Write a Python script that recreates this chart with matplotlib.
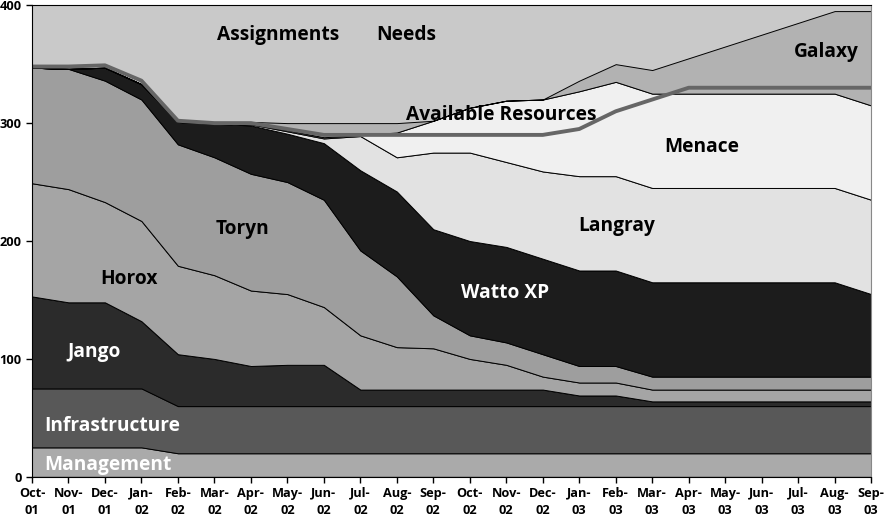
import numpy as np
import matplotlib.pyplot as plt

plt.rcParams['font.family'] = ['Open Sans', 'DejaVu Sans']

months = ["Oct-\n01", "Nov-\n01", "Dec-\n01", "Jan-\n02", "Feb-\n02", "Mar-\n02",
          "Apr-\n02", "May-\n02", "Jun-\n02", "Jul-\n02", "Aug-\n02", "Sep-\n02",
          "Oct-\n02", "Nov-\n02", "Dec-\n02", "Jan-\n03", "Feb-\n03", "Mar-\n03",
          "Apr-\n03", "May-\n03", "Jun-\n03", "Jul-\n03", "Aug-\n03", "Sep-\n03"]

management = [25, 25, 25, 25, 20, 20, 20, 20, 20, 20, 20, 20,
              20, 20, 20, 20, 20, 20, 20, 20, 20, 20, 20, 20]
infrastructure = [50, 50, 50, 50, 40, 40, 40, 40, 40, 40, 40, 40,
                  40, 40, 40, 40, 40, 40, 40, 40, 40, 40, 40, 40]
jango = [78, 73, 73, 57, 44, 40, 34, 35, 35, 14, 14, 14,
         14, 14, 14, 9, 9, 4, 4, 4, 4, 4, 4, 4]
horox = [96, 96, 85, 85, 75, 71, 64, 60, 49, 46, 36, 35,
         26, 21, 11, 11, 11, 10, 10, 10, 10, 10, 10, 10]
toryn = [98, 102, 103, 103, 103, 100, 99, 95, 91, 72, 60, 28,
         20, 19, 19, 14, 14, 11, 11, 11, 11, 11, 11, 11]
watto = [0, 0, 11, 13, 19, 28.5, 41, 41, 48, 68, 72, 73,
         80, 81, 81, 81, 81, 80, 80, 80, 80, 80, 80, 70]
langray = [0, 0, 0, 0, 0, 0, 1, 2, 4, 29, 29, 65,
           75, 72, 74, 80, 80, 80, 80, 80, 80, 80, 80, 80]
menace = [0, 0, 0, 0, 0, 0, 0.5, 1, 1, 1, 21, 27,
          38, 52, 61, 72, 80, 80, 80, 80, 80, 80, 80, 80]
galaxy = [0, 0, 0, 0, 0, 0.5, 1.5, 6, 12, 10, 8, 0,
          0, 0, 0, 9, 15, 20, 30, 40, 50, 60, 70, 80]
available = [348, 348, 349, 336, 302, 300, 300, 295, 290, 290, 290, 290,
             290, 290, 290, 295, 310, 320, 330, 330, 330, 330, 330, 330]

x = np.arange(len(months))
colors = ["#aaaaaa", "#585858", "#2b2b2b", "#a5a5a5", "#9e9e9e",
          "#1c1c1c", "#e2e2e2", "#f0f0f0", "#b2b2b2"]

fig = plt.figure(figsize=(8.88, 5.2), dpi=100)
ax = fig.add_axes([0.036, 0.083, 0.945, 0.907])
ax.set_facecolor("#c9c9c9")

ax.stackplot(x, management, infrastructure, jango, horox, toryn, watto,
             langray, menace, galaxy, colors=colors,
             edgecolor="black", linewidth=0.7)
ax.plot(x, available, color="#666666", linewidth=2.8, solid_joinstyle="round")

ax.set_xlim(0, len(months) - 1)
ax.set_ylim(0, 400)
ax.set_xticks(x)
ax.set_xticklabels(months, fontsize=9.2, fontweight="bold", linespacing=1.4)
ax.set_yticks([0, 100, 200, 300, 400])
ax.set_yticklabels(["0", "100", "200", "300", "400"], fontsize=9.2, fontweight="bold")
ax.tick_params(direction="out", length=4, width=1, color="black")
ax.tick_params(axis="x", pad=3)

for s in ["left", "bottom", "top"]:
    ax.spines[s].set_color("black")
ax.spines["right"].set_color("#888888")

labels = [
    ("Assignments", 6.76, 375, "black"),
    ("Needs", 10.25, 375, "black"),
    ("Galaxy", 21.77, 360, "black"),
    ("Available Resources", 12.86, 307, "black"),
    ("Menace", 18.37, 280, "black"),
    ("Langray", 16.02, 213, "black"),
    ("Toryn", 5.78, 210, "black"),
    ("Horox", 2.67, 168, "black"),
    ("Watto XP", 12.97, 156, "white"),
    ("Jango", 1.69, 106, "white"),
    ("Infrastructure", 2.2, 43, "white"),
    ("Management", 2.07, 10, "white"),
]
for txt, lx, ly, c in labels:
    ax.text(lx, ly, txt, ha="center", va="center", fontsize=13.8,
            fontweight="bold", color=c)

fig.savefig("out.png", dpi=100)
